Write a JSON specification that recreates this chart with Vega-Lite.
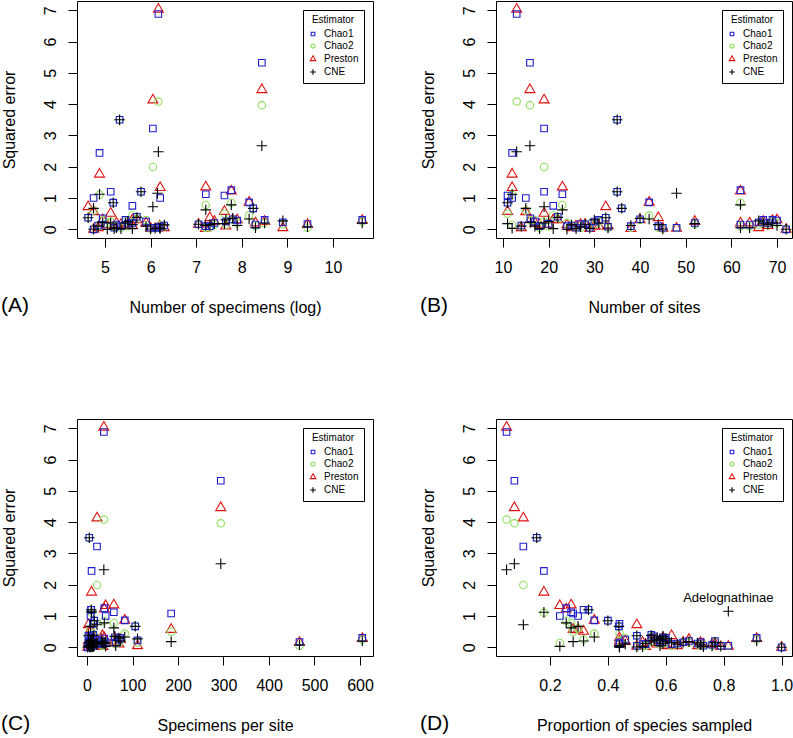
{
  "$schema": "https://vega.github.io/schema/vega-lite/v6.json",
  "padding": 0,
  "background": "white",
  "data": {
    "values": [
      {"t":"T1","logN":6.17,"sites":13,"sps":37,"prop":0.05,"Chao1":6.88,"Chao2":4.08,"Preston":7.03,"CNE":2.48},
      {"t":"T2","logN":8.44,"sites":15.9,"sps":294,"prop":0.077,"Chao1":5.32,"Chao2":3.96,"Preston":4.46,"CNE":2.67},
      {"t":"T3","logN":6.05,"sites":19,"sps":22,"prop":0.108,"Chao1":3.22,"Chao2":1.99,"Preston":4.13,"CNE":0.72},
      {"t":"T4","logN":5.32,"sites":35,"sps":5,"prop":0.154,"Chao1":3.5,"Chao2":3.5,"Preston":null,"CNE":3.5},
      {"t":"T5","logN":4.88,"sites":12,"sps":10,"prop":0.179,"Chao1":2.44,"Chao2":1.1,"Preston":1.76,"CNE":1.12},
      {"t":"Adelognathinae","logN":6.15,"sites":48,"sps":9.8,"prop":0.816,"Chao1":0.05,"Chao2":0.04,"Preston":0.03,"CNE":1.15,"label":"Adelognathinae"},
      {"t":"T7","logN":7.77,"sites":62,"sps":38,"prop":0.256,"Chao1":1.25,"Chao2":0.85,"Preston":1.22,"CNE":0.78},
      {"t":"T8","logN":7.21,"sites":23,"sps":59,"prop":0.273,"Chao1":1.12,"Chao2":0.78,"Preston":1.35,"CNE":0.62},
      {"t":"T9","logN":6.21,"sites":12,"sps":41,"prop":0.234,"Chao1":1.0,"Chao2":0.14,"Preston":1.33,"CNE":0.03},
      {"t":"T10","logN":7.62,"sites":11,"sps":185,"prop":0.28,"Chao1":1.08,"Chao2":0.5,"Preston":0.57,"CNE":0.18},
      {"t":"T11","logN":5.79,"sites":35,"sps":9.3,"prop":0.333,"Chao1":1.2,"Chao2":1.2,"Preston":null,"CNE":1.2},
      {"t":"T12","logN":5.18,"sites":11,"sps":16,"prop":0.4,"Chao1":0.85,"Chao2":0.85,"Preston":null,"CNE":0.85},
      {"t":"T13","logN":8.25,"sites":36,"sps":106,"prop":0.438,"Chao1":0.67,"Chao2":0.67,"Preston":null,"CNE":0.67},
      {"t":"T14","logN":8.16,"sites":42,"sps":83,"prop":0.353,"Chao1":0.86,"Chao2":0.44,"Preston":0.86,"CNE":0.33},
      {"t":"T15","logN":4.75,"sites":15,"sps":7.7,"prop":0.297,"Chao1":1.0,"Chao2":0.6,"Preston":0.56,"CNE":0.67},
      {"t":"T16","logN":5.6,"sites":21,"sps":13,"prop":0.44,"Chao1":0.75,"Chao2":0.45,"Preston":0.3,"CNE":0.02},
      {"t":"T17","logN":4.63,"sites":32.5,"sps":3.2,"prop":0.5,"Chao1":0.37,"Chao2":0.37,"Preston":0.72,"CNE":0.37},
      {"t":"T18","logN":5.125,"sites":19,"sps":8.8,"prop":0.316,"Chao1":1.2,"Chao2":0.25,"Preston":0.51,"CNE":0.2},
      {"t":"G1","logN":10.64,"sites":69,"sps":605,"prop":0.914,"Chao1":0.3,"Chao2":0.25,"Preston":0.28,"CNE":0.2},
      {"t":"G2","logN":9.44,"sites":27,"sps":467,"prop":0.72,"Chao1":0.17,"Chao2":0.05,"Preston":0.15,"CNE":0.08},
      {"t":"G3","logN":8.9,"sites":66,"sps":111,"prop":0.6,"Chao1":0.22,"Chao2":0.15,"Preston":0.05,"CNE":0.27},
      {"t":"G4","logN":8.5,"sites":67,"sps":73,"prop":0.55,"Chao1":0.3,"Chao2":0.2,"Preston":0.25,"CNE":0.2},
      {"t":"G5","logN":8.3,"sites":64,"sps":63,"prop":0.58,"Chao1":0.15,"Chao2":0.1,"Preston":0.2,"CNE":0.05},
      {"t":"G6","logN":7.8,"sites":40,"sps":61,"prop":0.59,"Chao1":0.32,"Chao2":0.3,"Preston":0.3,"CNE":0.35},
      {"t":"G7","logN":7.65,"sites":30,"sps":70,"prop":0.57,"Chao1":0.25,"Chao2":0.15,"Preston":0.1,"CNE":0.3},
      {"t":"G8","logN":7.3,"sites":44,"sps":34,"prop":0.62,"Chao1":0.1,"Chao2":0.05,"Preston":0.37,"CNE":0.15},
      {"t":"G9","logN":7.2,"sites":38,"sps":35,"prop":0.53,"Chao1":0.1,"Chao2":0.05,"Preston":0.02,"CNE":0.12},
      {"t":"G10","logN":7.05,"sites":28,"sps":41,"prop":0.66,"Chao1":0.16,"Chao2":0.16,"Preston":0.16,"CNE":0.16},
      {"t":"G11","logN":6.3,"sites":25,"sps":22,"prop":0.71,"Chao1":0.12,"Chao2":0.1,"Preston":0.05,"CNE":0.14},
      {"t":"G12","logN":6.2,"sites":33,"sps":15,"prop":0.76,"Chao1":0.08,"Chao2":0.05,"Preston":0.1,"CNE":0.04},
      {"t":"G13","logN":6.1,"sites":29,"sps":15,"prop":0.79,"Chao1":0.05,"Chao2":0.05,"Preston":0.02,"CNE":0.03},
      {"t":"G14","logN":5.9,"sites":17,"sps":21,"prop":0.46,"Chao1":0.25,"Chao2":0.3,"Preston":0.2,"CNE":0.1},
      {"t":"G15","logN":5.7,"sites":22,"sps":14,"prop":0.55,"Chao1":0.4,"Chao2":0.35,"Preston":0.3,"CNE":0.38},
      {"t":"G16","logN":5.5,"sites":20,"sps":12,"prop":0.58,"Chao1":0.18,"Chao2":0.1,"Preston":0.15,"CNE":0.25},
      {"t":"G17","logN":5.45,"sites":31,"sps":7.5,"prop":0.6,"Chao1":0.3,"Chao2":0.25,"Preston":0.1,"CNE":0.2},
      {"t":"G18","logN":5.35,"sites":18,"sps":12,"prop":0.52,"Chao1":0.1,"Chao2":0.05,"Preston":0.15,"CNE":0.02},
      {"t":"G19","logN":5.2,"sites":26,"sps":7,"prop":0.73,"Chao1":0.05,"Chao2":0.08,"Preston":0.1,"CNE":0.02},
      {"t":"G20","logN":5.05,"sites":24,"sps":6.5,"prop":0.44,"Chao1":0.1,"Chao2":0.2,"Preston":0.14,"CNE":0.0},
      {"t":"G21","logN":4.95,"sites":16,"sps":8.8,"prop":0.56,"Chao1":0.35,"Chao2":0.3,"Preston":0.3,"CNE":0.22},
      {"t":"G22","logN":4.85,"sites":14,"sps":9.1,"prop":0.64,"Chao1":0.12,"Chao2":0.1,"Preston":0.05,"CNE":0.1},
      {"t":"G23","logN":4.75,"sites":72,"sps":1.6,"prop":1.0,"Chao1":0.0,"Chao2":0.0,"Preston":0.0,"CNE":0.0},
      {"t":"G24","logN":5.6,"sites":68,"sps":4,"prop":0.77,"Chao1":0.2,"Chao2":0.18,"Preston":0.12,"CNE":0.15},
      {"t":"G25","logN":7.9,"sites":70,"sps":38,"prop":0.59,"Chao1":0.28,"Chao2":0.2,"Preston":0.3,"CNE":0.12},
      {"t":"G26","logN":6.0,"sites":45,"sps":9,"prop":0.5,"Chao1":0.05,"Chao2":0.02,"Preston":0.03,"CNE":0.01},
      {"t":"G27","logN":5.25,"sites":62,"sps":3,"prop":0.44,"Chao1":0.15,"Chao2":0.1,"Preston":0.2,"CNE":0.05},
      {"t":"G28","logN":7.4,"sites":52,"sps":32,"prop":0.68,"Chao1":0.2,"Chao2":0.15,"Preston":0.25,"CNE":0.18}
    ]
  },
  "transform": [
    {"fold": ["Chao1", "Chao2", "Preston", "CNE"], "as": ["Estimator", "err"]},
    {"filter": "isValid(datum.err)"}
  ],
  "spacing": 101,
  "resolve": {
    "scale": {"x": "independent", "y": "independent", "color": "independent", "shape": "independent"},
    "legend": {"color": "independent", "shape": "independent"}
  },
  "vconcat": [
    {
      "spacing": 45,
      "resolve": {
        "scale": {"x": "independent", "y": "independent", "color": "independent", "shape": "independent"},
        "legend": {"color": "independent", "shape": "independent"}
      },
      "hconcat": [
        {
          "width": 296, "height": 237,
          "title": {"text": "(A)"},
          "mark": {"type": "point"},
          "encoding": {
            "x": {"field": "logN", "type": "quantitative", "scale": {"domain": [4.386, 10.877], "nice": false, "zero": false}, "axis": {"values": [5, 6, 7, 8, 9, 10], "title": "Number of specimens (log)"}},
            "y": {"field": "err", "type": "quantitative", "scale": {"domain": [-0.278, 7.294], "nice": false, "zero": false}, "axis": {"values": [0, 1, 2, 3, 4, 5, 6, 7], "title": "Squared error"}},
            "color": {"field": "Estimator", "type": "nominal", "scale": {"domain": ["Chao1", "Chao2", "Preston", "CNE"], "range": ["#1f1fd0", "#8fe060", "#dd1010", "#000000"]}, "legend": {"title": "Estimator"}},
            "shape": {"field": "Estimator", "type": "nominal", "scale": {"domain": ["Chao1", "Chao2", "Preston", "CNE"], "range": ["M-0.656,-0.656L0.656,-0.656L0.656,0.656L-0.656,0.656Z", "M0.74,0A0.74,0.74,0,1,1,-0.74,0A0.74,0.74,0,1,1,0.74,0Z", "M0,-1.151L0.997,0.576L-0.997,0.576Z", "M-1.046,0L1.046,0M0,-1.046L0,1.046"]}, "legend": {"title": "Estimator"}},
            "order": {"field": "Estimator", "sort": "descending"}
          }
        },
        {
          "width": 296, "height": 237,
          "title": {"text": "(B)"},
          "mark": {"type": "point"},
          "encoding": {
            "x": {"field": "sites", "type": "quantitative", "scale": {"domain": [8.47, 73.28], "nice": false, "zero": false}, "axis": {"values": [10, 20, 30, 40, 50, 60, 70], "title": "Number of sites"}},
            "y": {"field": "err", "type": "quantitative", "scale": {"domain": [-0.278, 7.294], "nice": false, "zero": false}, "axis": {"values": [0, 1, 2, 3, 4, 5, 6, 7], "title": "Squared error"}},
            "color": {"field": "Estimator", "type": "nominal", "scale": {"domain": ["Chao1", "Chao2", "Preston", "CNE"], "range": ["#1f1fd0", "#8fe060", "#dd1010", "#000000"]}, "legend": {"title": "Estimator"}},
            "shape": {"field": "Estimator", "type": "nominal", "scale": {"domain": ["Chao1", "Chao2", "Preston", "CNE"], "range": ["M-0.656,-0.656L0.656,-0.656L0.656,0.656L-0.656,0.656Z", "M0.74,0A0.74,0.74,0,1,1,-0.74,0A0.74,0.74,0,1,1,0.74,0Z", "M0,-1.151L0.997,0.576L-0.997,0.576Z", "M-1.046,0L1.046,0M0,-1.046L0,1.046"]}, "legend": {"title": "Estimator"}},
            "order": {"field": "Estimator", "sort": "descending"}
          }
        }
      ]
    },
    {
      "spacing": 45,
      "resolve": {
        "scale": {"x": "independent", "y": "independent", "color": "independent", "shape": "independent"},
        "legend": {"color": "independent", "shape": "independent"}
      },
      "hconcat": [
        {
          "width": 296, "height": 237,
          "title": {"text": "(C)"},
          "mark": {"type": "point"},
          "encoding": {
            "x": {"field": "sps", "type": "quantitative", "scale": {"domain": [-22, 628.6], "nice": false, "zero": false}, "axis": {"values": [0, 100, 200, 300, 400, 500, 600], "title": "Specimens per site"}},
            "y": {"field": "err", "type": "quantitative", "scale": {"domain": [-0.278, 7.294], "nice": false, "zero": false}, "axis": {"values": [0, 1, 2, 3, 4, 5, 6, 7], "title": "Squared error"}},
            "color": {"field": "Estimator", "type": "nominal", "scale": {"domain": ["Chao1", "Chao2", "Preston", "CNE"], "range": ["#1f1fd0", "#8fe060", "#dd1010", "#000000"]}, "legend": {"title": "Estimator"}},
            "shape": {"field": "Estimator", "type": "nominal", "scale": {"domain": ["Chao1", "Chao2", "Preston", "CNE"], "range": ["M-0.656,-0.656L0.656,-0.656L0.656,0.656L-0.656,0.656Z", "M0.74,0A0.74,0.74,0,1,1,-0.74,0A0.74,0.74,0,1,1,0.74,0Z", "M0,-1.151L0.997,0.576L-0.997,0.576Z", "M-1.046,0L1.046,0M0,-1.046L0,1.046"]}, "legend": {"title": "Estimator"}},
            "order": {"field": "Estimator", "sort": "descending"}
          }
        },
        {
          "width": 296, "height": 237,
          "title": {"text": "(D)"},
          "encoding": {
            "x": {"field": "prop", "type": "quantitative", "scale": {"domain": [0.0135, 1.036], "nice": false, "zero": false}, "axis": {"values": [0.2, 0.4, 0.6, 0.8, 1.0], "format": ".1f", "title": "Proportion of species sampled"}},
            "y": {"field": "err", "type": "quantitative", "scale": {"domain": [-0.278, 7.294], "nice": false, "zero": false}, "axis": {"values": [0, 1, 2, 3, 4, 5, 6, 7], "title": "Squared error"}}
          },
          "layer": [
            {
              "mark": {"type": "point"},
              "encoding": {
                "color": {"field": "Estimator", "type": "nominal", "scale": {"domain": ["Chao1", "Chao2", "Preston", "CNE"], "range": ["#1f1fd0", "#8fe060", "#dd1010", "#000000"]}, "legend": {"title": "Estimator"}},
                "shape": {"field": "Estimator", "type": "nominal", "scale": {"domain": ["Chao1", "Chao2", "Preston", "CNE"], "range": ["M-0.656,-0.656L0.656,-0.656L0.656,0.656L-0.656,0.656Z", "M0.74,0A0.74,0.74,0,1,1,-0.74,0A0.74,0.74,0,1,1,0.74,0Z", "M0,-1.151L0.997,0.576L-0.997,0.576Z", "M-1.046,0L1.046,0M0,-1.046L0,1.046"]}, "legend": {"title": "Estimator"}},
                "order": {"field": "Estimator", "sort": "descending"}
              }
            },
            {
              "transform": [{"filter": "isValid(datum.label) && datum.Estimator == 'CNE'"}],
              "mark": {"type": "text", "dy": -13, "fontSize": 13, "font": "Liberation Sans", "color": "black"},
              "encoding": {"text": {"field": "label"}}
            }
          ]
        }
      ]
    }
  ],
  "config": {
    "font": "Liberation Sans",
    "view": {"stroke": "black", "strokeWidth": 1},
    "axis": {"grid": false, "domain": false, "tickColor": "black", "tickSize": 9, "tickWidth": 1, "labelColor": "black", "titleColor": "black", "labelFontSize": 16, "titleFontSize": 16, "titleFontWeight": "normal", "labelFont": "Liberation Sans", "titleFont": "Liberation Sans"},
    "axisX": {"labelPadding": 12, "titlePadding": 24},
    "axisY": {"labelAngle": -90, "labelAlign": "center", "labelBaseline": "bottom", "labelPadding": 10, "titlePadding": 25},
    "point": {"filled": false, "strokeWidth": 1.1, "size": 100, "opacity": 1},
    "legend": {"orient": "top-right", "offset": 9, "padding": 5, "strokeColor": "black", "fillColor": "white", "titleFontSize": 10, "titleFontWeight": "normal", "titleColor": "black", "titleFont": "Liberation Sans", "labelFont": "Liberation Sans", "labelFontSize": 10, "labelColor": "black", "symbolSize": 30, "symbolStrokeWidth": 1.2, "titleAnchor": "middle", "titlePadding": 4, "rowPadding": 2, "labelOffset": 6, "cornerRadius": 0},
    "title": {"orient": "bottom", "anchor": "start", "frame": "bounds", "fontSize": 21, "fontWeight": "normal", "font": "Liberation Sans", "color": "black", "offset": 0, "dy": -24}
  }
}
